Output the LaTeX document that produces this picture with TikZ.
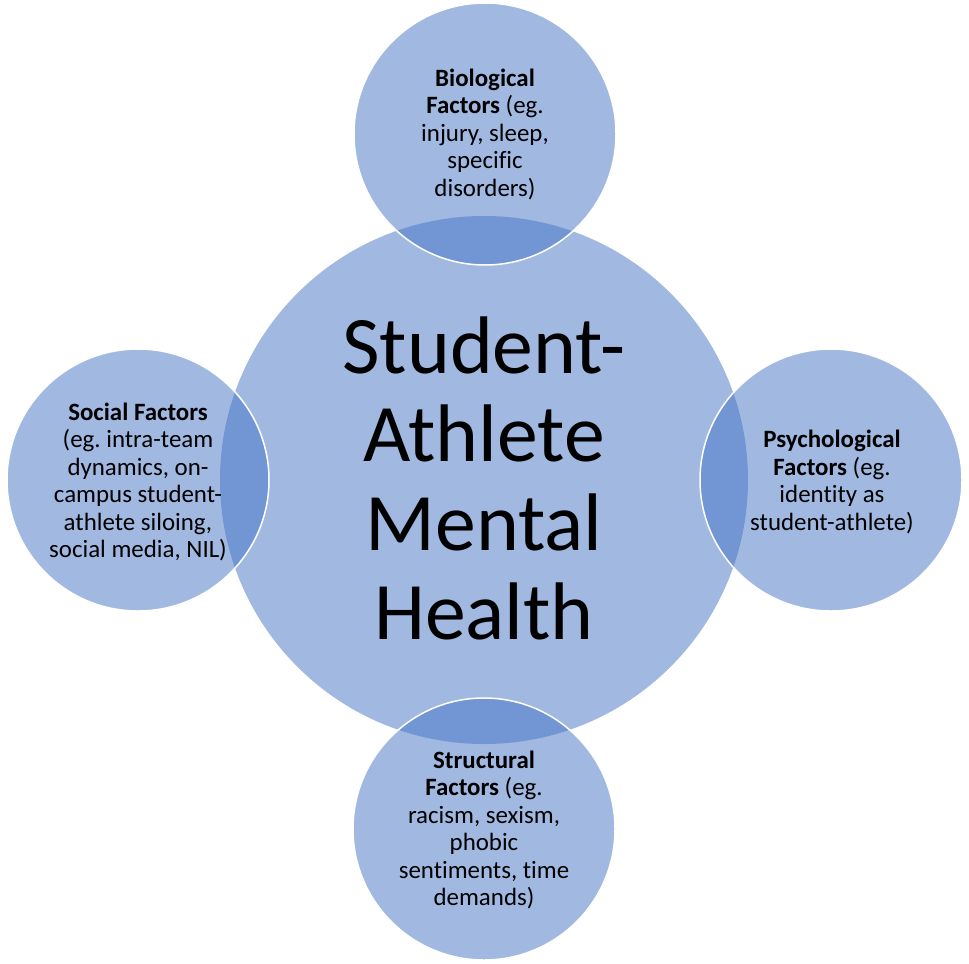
\documentclass[tikz,border=0pt]{standalone}
\usepackage{fontspec}
\setmainfont{Carlito}[Ligatures=NoCommon]
\frenchspacing
\definecolor{officeblue}{HTML}{4472C4}
\tikzset{
  hub/.style={circle, draw=none, fill=officeblue, fill opacity=0.5, minimum size=528bp, inner sep=0pt},
  sat/.style={circle, draw=white, line width=1.5bp, fill=officeblue, fill opacity=0.5, minimum size=262bp, inner sep=0pt},
  smalltext/.style={align=center, inner sep=0pt, font=\fontsize{25}{27.6}\selectfont\frenchspacing},
  bigtext/.style={align=center, inner sep=0pt, font=\fontsize{82}{89}\selectfont}
}
\begin{document}
\begin{tikzpicture}[x=1bp,y=-1bp]
\useasboundingbox (0,0) rectangle (969,964);
\node[hub] (hubc) at (484,480) {};
\node[sat] (bio) at (485,134) {};
\node[sat] (soc) at (138,480) {};
\node[sat] (psy) at (831,480) {};
\node[sat] (str) at (484,829) {};
\node[bigtext] (hubt) at (484,478) {Student-\\Athlete\\Mental\\Health};
\node[smalltext] (biot) at (485,134) {\textbf{Biological}\\\textbf{Factors} (eg.\\injury, sleep,\\specific\\disorders)};
\node[smalltext] (soct) at (138,482) {\textbf{Social Factors}\\(eg. intra-team\\dynamics, on-\\campus student-\\athlete siloing,\\social media, NIL)};
\node[smalltext] (psyt) at (832,482) {\textbf{Psychological}\\\textbf{Factors} (eg.\\identity as\\student-athlete)};
\node[smalltext] (strt) at (484,830) {\textbf{Structural}\\\textbf{Factors} (eg.\\racism, sexism,\\phobic\\sentiments, time\\demands)};
\end{tikzpicture}
\end{document}
